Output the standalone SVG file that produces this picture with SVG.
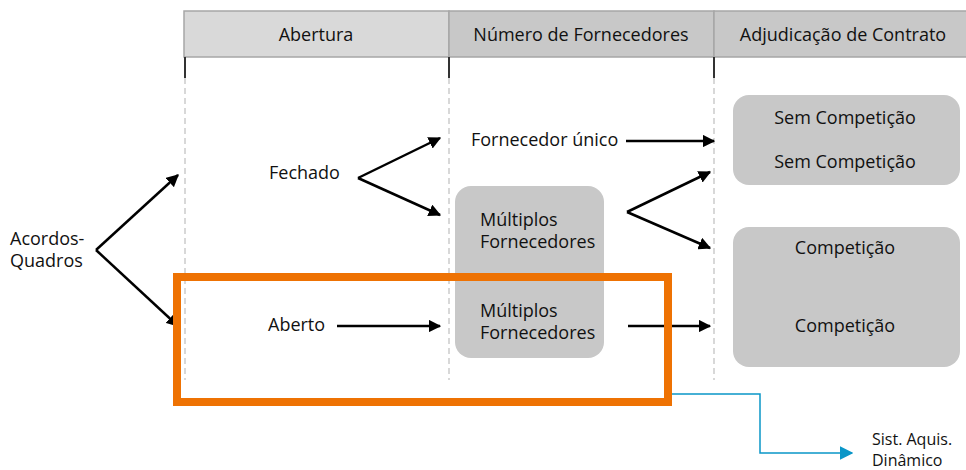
<svg xmlns="http://www.w3.org/2000/svg" width="966" height="470" viewBox="0 0 966 470">
<defs>
<marker id="ah" viewBox="0 0 10 10" refX="9" refY="5" markerWidth="5" markerHeight="5" orient="auto" markerUnits="strokeWidth"><path d="M0,0 L10,5 L0,10 z" fill="#000"/></marker>
<marker id="ahb" viewBox="0 0 10 10" refX="9" refY="5" markerWidth="9" markerHeight="9" orient="auto" markerUnits="strokeWidth"><path d="M0,0 L10,5 L0,10 z" fill="#0a96c8"/></marker>
<style>
text{font-family:"Open Sans","DejaVu Sans",sans-serif;font-size:18px;fill:#111}
.c{text-anchor:middle}
.s{font-size:16px}
.hdr{stroke:#a6a6a6;stroke-width:1.5}
.dash{stroke:#c4c4c4;stroke-width:1.3;stroke-dasharray:6,4;fill:none}
.tick{stroke:#333;stroke-width:2}
.box{fill:#c8c8c8}
.arr{stroke:#000;stroke-width:2.5;fill:none;marker-end:url(#ah)}
</style>
</defs>
<g id="header">
<rect x="184" y="11" width="265" height="46" fill="#d9d9d9" class="hdr"/>
<rect x="449" y="11" width="265" height="46" fill="#c8c8c8" class="hdr"/>
<rect x="714" y="11" width="260" height="46" fill="#c8c8c8" class="hdr"/>
<text x="316" y="41" class="c">Abertura</text>
<text x="581" y="41" class="c">Número de Fornecedores</text>
<text x="843" y="41" class="c">Adjudicação de Contrato</text>
</g>
<g id="grid">
<line x1="185" y1="57" x2="185" y2="78" class="tick"/>
<line x1="449" y1="57" x2="449" y2="78" class="tick"/>
<line x1="714" y1="57" x2="714" y2="78" class="tick"/>
<line x1="185" y1="78" x2="185" y2="380" class="dash"/>
<line x1="449" y1="78" x2="449" y2="380" class="dash"/>
<line x1="714" y1="78" x2="714" y2="380" class="dash"/>
</g>
<g id="multiplos">
<rect x="455" y="186" width="149" height="172" rx="16" class="box"/>
<text x="480" y="226">Múltiplos</text>
<text x="480" y="248">Fornecedores</text>
<text x="480" y="317">Múltiplos</text>
<text x="480" y="339">Fornecedores</text>
</g>
<g id="sem-competicao">
<rect x="733" y="95" width="227" height="90" rx="16" class="box"/>
<text x="845" y="124" class="c">Sem Competição</text>
<text x="845" y="168" class="c">Sem Competição</text>
</g>
<g id="competicao">
<rect x="733" y="227" width="227" height="140" rx="16" class="box"/>
<text x="845" y="254" class="c">Competição</text>
<text x="845" y="332" class="c">Competição</text>
</g>
<g id="acordos"><text x="10" y="245">Acordos-</text><text x="10" y="267">Quadros</text></g>
<g id="fechado"><text x="269" y="179">Fechado</text></g>
<g id="aberto"><text x="268" y="331">Aberto</text></g>
<g id="fornecedor-unico"><text x="471" y="146">Fornecedor único</text></g>
<g id="sist"><text x="872" y="445" class="s">Sist. Aquis.</text><text x="872" y="466" class="s">Dinâmico</text></g>
<g id="connectors">
<line x1="96" y1="250" x2="178" y2="175" class="arr"/>
<line x1="96" y1="250" x2="178" y2="326" class="arr"/>
<line x1="358" y1="178" x2="440" y2="138" class="arr"/>
<line x1="358" y1="178" x2="440" y2="215" class="arr"/>
<line x1="337" y1="326" x2="440" y2="326" class="arr"/>
<line x1="626" y1="141" x2="714" y2="141" class="arr"/>
<line x1="627" y1="212" x2="710" y2="172" class="arr"/>
<line x1="627" y1="212" x2="710" y2="248" class="arr"/>
<line x1="628" y1="326" x2="710" y2="326" class="arr"/>
<polyline points="672,394 760,394 760,453 852,453" fill="none" stroke="#0a96c8" stroke-width="1.5" marker-end="url(#ahb)"/>
</g>
<g id="highlight">
<rect x="177" y="277" width="491" height="125" fill="none" stroke="#ee7203" stroke-width="8"/>
</g>
</svg>
